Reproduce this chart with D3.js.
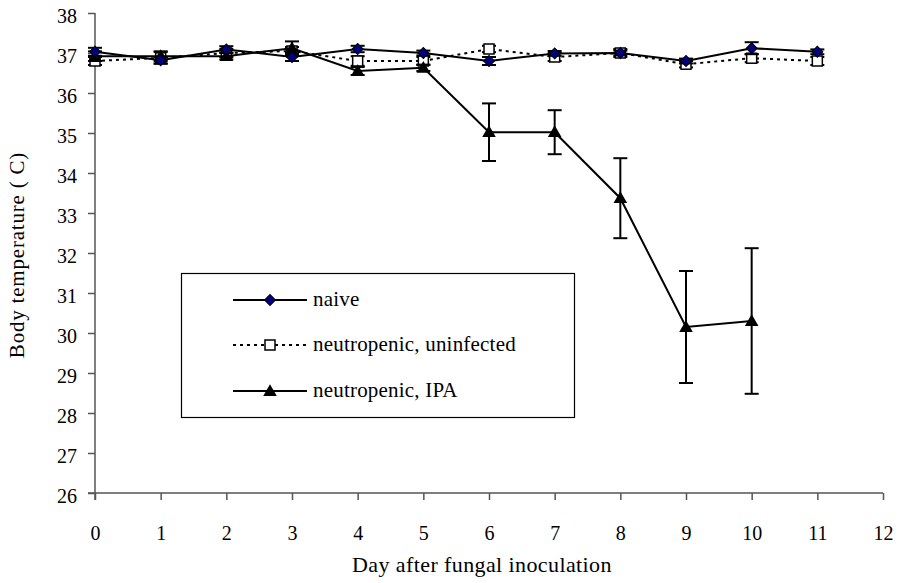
<!DOCTYPE html>
<html>
<head>
<meta charset="utf-8">
<script src="https://cdn.jsdelivr.net/npm/d3@7"></script>
<style>
  body { margin: 0; background: #fff; }
  .axis path, .axis line { stroke: #555; stroke-width: 1.5; }
</style>
</head>
<body>
<div id="chart"></div>
<script>
// day after inoculation
var days = [0, 1, 2, 3, 4, 5, 6, 7, 8, 9, 10, 11];
var daysIPA = [0, 1, 2, 3, 4, 5, 6, 7, 8, 9, 10];

var naive = [37.03, 36.82, 37.09, 36.9, 37.1, 37.0, 36.8, 36.99, 37.0, 36.8, 37.12, 37.03];
var naiveErr = [0.1, 0.08, 0.08, 0.1, 0.08, 0.06, 0.1, 0.06, 0.06, 0.06, 0.15, 0.06];

var uninfected = [36.8, 36.88, 37.0, 37.05, 36.8, 36.8, 37.1, 36.9, 37.0, 36.72, 36.87, 36.8];
var uninfectedErr = [0.1, 0.15, 0.1, 0.1, 0.12, 0.1, 0.08, 0.1, 0.1, 0.08, 0.1, 0.1];

var ipa = [36.92, 36.92, 36.92, 37.12, 36.55, 36.63, 35.02, 35.02, 33.37, 30.15, 30.3];
var ipaErr = [0.12, 0.12, 0.08, 0.17, 0.1, 0.08, 0.72, 0.55, 1.0, 1.4, 1.82];

var yTicks = [26, 27, 28, 29, 30, 31, 32, 33, 34, 35, 36, 37, 38];
var xTicks = [0, 1, 2, 3, 4, 5, 6, 7, 8, 9, 10, 11, 12];

var FONT = "'Liberation Serif', 'Times New Roman', serif";
var width = 900, height = 583;
var margin = {top: 13, right: 17, bottom: 90, left: 95};

var svg = d3.select("#chart").append("svg")
    .attr("width", width)
    .attr("height", height)
    .attr("font-family", FONT);

var x = d3.scaleLinear().domain([0, 12]).range([margin.left, width - margin.right]);
var y = d3.scaleLinear().domain([26, 38]).range([height - margin.bottom, margin.top]);

// axes
svg.append("g")
    .attr("class", "axis")
    .attr("transform", "translate(0," + y(26) + ")")
    .call(d3.axisBottom(x).tickValues(xTicks).tickSize(7).tickPadding(26).tickSizeOuter(0))
    .call(g => g.attr("font-family", FONT).attr("font-size", 20))
    .call(g => g.selectAll("text").attr("fill", "#000"))
    .call(g => g.select(".domain").attr("d", "M" + (x(0) - 7) + ",0H" + x(12)));

svg.append("g")
    .attr("class", "axis")
    .attr("transform", "translate(" + x(0) + ",0)")
    .call(d3.axisLeft(y).tickValues(yTicks).tickSize(7).tickPadding(11).tickSizeOuter(0))
    .call(g => g.attr("font-family", FONT).attr("font-size", 20))
    .call(g => g.selectAll("text").attr("fill", "#000").attr("dy", "0.45em"))
    .call(g => g.select(".domain").attr("d", "M0," + y(38) + "V" + (y(26) + 7)));

svg.append("text")
    .attr("x", 482)
    .attr("y", 572)
    .attr("text-anchor", "middle")
    .attr("font-size", 22)
    .attr("letter-spacing", 0.4)
    .text("Day after fungal inoculation");

svg.append("text")
    .attr("transform", "translate(24,255) rotate(-90)")
    .attr("text-anchor", "middle")
    .attr("font-size", 21)
    .attr("letter-spacing", 0.8)
    .text("Body temperature ( C)");

var line = d3.line().x(d => x(d[0])).y(d => y(d[1]));

function drawSeries(xs, vals, errs, dash) {
    var pts = xs.map((d, i) => [d, vals[i], errs[i]]);
    var g = svg.append("g");
    var eb = g.selectAll(".err").data(pts).enter().append("g")
        .attr("stroke", "#000").attr("stroke-width", 2);
    eb.append("line")
        .attr("x1", d => x(d[0])).attr("x2", d => x(d[0]))
        .attr("y1", d => y(d[1] + d[2])).attr("y2", d => y(d[1] - d[2]));
    eb.append("line")
        .attr("x1", d => x(d[0]) - 7).attr("x2", d => x(d[0]) + 7)
        .attr("y1", d => y(d[1] + d[2])).attr("y2", d => y(d[1] + d[2]));
    eb.append("line")
        .attr("x1", d => x(d[0]) - 7).attr("x2", d => x(d[0]) + 7)
        .attr("y1", d => y(d[1] - d[2])).attr("y2", d => y(d[1] - d[2]));
    g.append("path")
        .datum(pts)
        .attr("d", line)
        .attr("fill", "none")
        .attr("stroke", "#000")
        .attr("stroke-width", 2)
        .attr("stroke-dasharray", dash);
    return {g: g, pts: pts};
}

var diamond = d3.symbol().type(d3.symbolSquare).size(60);
var triangle = d3.symbol().type(d3.symbolTriangle).size(80);

var s2 = drawSeries(days, uninfected, uninfectedErr, "3,4");
s2.g.selectAll(".m").data(s2.pts).enter().append("rect")
    .attr("x", d => x(d[0]) - 5).attr("y", d => y(d[1]) - 5)
    .attr("width", 10).attr("height", 10)
    .attr("fill", "#fff").attr("stroke", "#000").attr("stroke-width", 1.5);

var s3 = drawSeries(daysIPA, ipa, ipaErr, null);
s3.g.selectAll(".m").data(s3.pts).enter().append("path")
    .attr("d", triangle)
    .attr("transform", d => "translate(" + x(d[0]) + "," + (y(d[1]) + 1) + ")")
    .attr("fill", "#000");

var s1 = drawSeries(days, naive, naiveErr, null);
s1.g.selectAll(".m").data(s1.pts).enter().append("path")
    .attr("d", diamond)
    .attr("transform", d => "translate(" + x(d[0]) + "," + y(d[1]) + ") rotate(45)")
    .attr("fill", "#000080").attr("stroke", "#000").attr("stroke-width", 1);

// legend
var legendNames = ["naive", "neutropenic, uninfected", "neutropenic, IPA"];
var legendRows = [300, 345, 391];
var legend = svg.append("g");
legend.append("rect")
    .attr("x", 181.5).attr("y", 273.5)
    .attr("width", 393).attr("height", 144)
    .attr("fill", "#fff").attr("stroke", "#000").attr("stroke-width", 1.2);

legendNames.forEach(function (name, i) {
    var ly = legendRows[i];
    legend.append("line")
        .attr("x1", 233).attr("x2", 307).attr("y1", ly).attr("y2", ly)
        .attr("stroke", "#000").attr("stroke-width", 2)
        .attr("stroke-dasharray", i === 1 ? "3,4" : null);
    if (i === 0) {
        legend.append("path").attr("d", diamond)
            .attr("transform", "translate(270," + ly + ") rotate(45)")
            .attr("fill", "#000080").attr("stroke", "#000");
    } else if (i === 1) {
        legend.append("rect").attr("x", 265).attr("y", ly - 5).attr("width", 10).attr("height", 10)
            .attr("fill", "#fff").attr("stroke", "#000").attr("stroke-width", 1.5);
    } else {
        legend.append("path").attr("d", triangle)
            .attr("transform", "translate(270," + (ly + 1) + ")").attr("fill", "#000");
    }
    legend.append("text")
        .attr("x", 313).attr("y", ly + 6)
        .attr("font-size", 21)
        .attr("letter-spacing", 0.2)
        .text(name);
});
</script>
</body>
</html>
